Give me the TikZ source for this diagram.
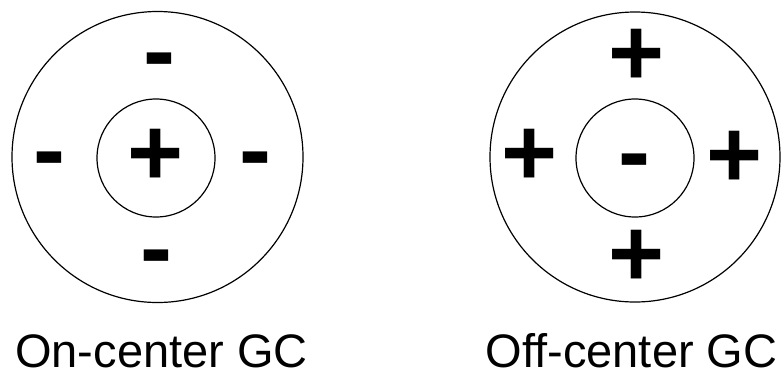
\documentclass[tikz,border=0pt]{standalone}
\usepackage{fontspec}
\setmainfont{Liberation Sans}[Ligatures=NoCommon]
\newfontfamily\signfont{Liberation Sans Bold}
\begin{document}
\begin{tikzpicture}[x=1pt,y=-1pt,
  ring/.style={draw=black,line width=1.2pt,circle,inner sep=0pt},
  sign/.style={inner sep=0pt,font=\signfont\fontsize{96}{96}\selectfont},
  msign/.style={sign,yshift=-10pt},
  caption/.style={inner sep=0pt,anchor=base,font=\fontsize{47}{50}\selectfont}]
\useasboundingbox (0,0) rectangle (781,376);
% on-center
\node[ring,minimum size=291pt] (Lout) at (157.5,157) {};
\node[ring,minimum size=118pt] (Lin) at (156,158) {};
\node[sign] (Lc) at (156,157) {+};
\node[msign] (Lt) at (159,58) {-};
\node[msign] (Ll) at (49,157) {-};
\node[msign] (Lr) at (255,157) {-};
\node[msign] (Lb) at (156,255) {-};
\node[caption] (Llab) at (161.5,367) {On-center GC};
% off-center
\node[ring,minimum size=290pt] (Rout) at (635,157) {};
\node[ring,minimum size=118pt] (Rin) at (635,158) {};
\node[msign] (Rc) at (634,159) {-};
\node[sign] (Rt) at (637,57) {+};
\node[sign] (Rl) at (530,157) {+};
\node[sign] (Rr) at (735,159) {+};
\node[sign] (Rb) at (637,258) {+};
\node[caption] (Rlab) at (631.5,367) {Off-center GC};
\end{tikzpicture}
\end{document}
